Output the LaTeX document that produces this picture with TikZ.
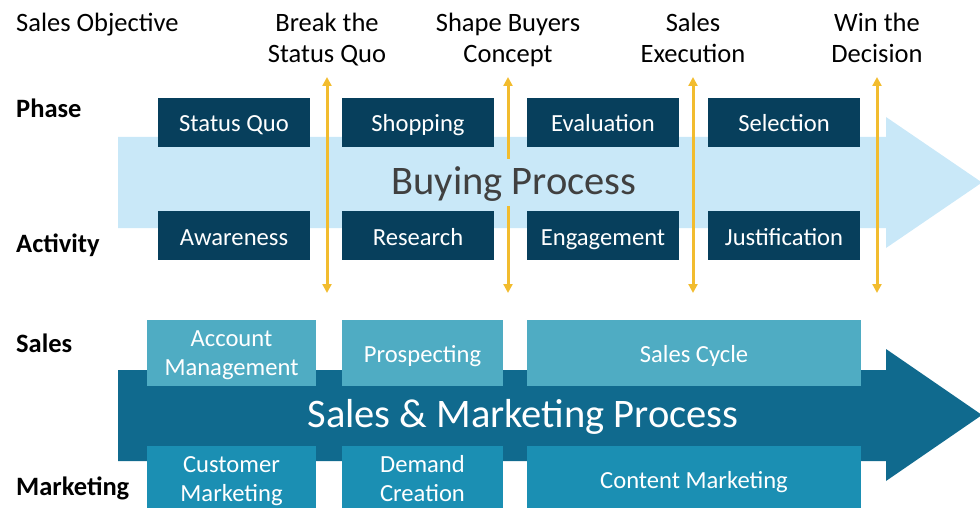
\documentclass[tikz,border=0pt]{standalone}
\usepackage{fontspec}
\setmainfont{Carlito}
\usetikzlibrary{arrows.meta, positioning}
\definecolor{phaseNavy}{HTML}{073F5C}
\definecolor{buyBlue}{HTML}{C9E8F8}
\definecolor{processBlue}{HTML}{106A8E}
\definecolor{salesTeal}{HTML}{4FACC3}
\definecolor{mktBlue}{HTML}{1B8FB3}
\definecolor{goalYellow}{HTML}{F2BC2E}
\definecolor{buyText}{HTML}{404040}
\newcommand{\goalTip}{{Triangle[length=9pt,width=9pt]}}
\newcommand{\boxFont}{\fontsize{24.6}{29}\selectfont}
\newcommand{\labelFont}{\fontsize{26.5}{31.5}\selectfont}
\tikzset{phase box/.style = {fill=phaseNavy, text=white, minimum width=152pt, minimum height=49pt, inner sep=0pt, text height=23pt, text depth=4pt, font=\boxFont}}
\tikzset{team box/.style = {text=white, minimum height=66pt, inner sep=0pt, align=center, font=\boxFont}}
\tikzset{one line/.style = {text height=23pt, text depth=4pt}}
\tikzset{two lines/.style = {text height=49pt, text depth=5pt}}
\tikzset{side label/.style = {anchor=base west, inner sep=0pt, font=\labelFont\bfseries}}
\tikzset{goal label/.style = {anchor=base, inner sep=0pt, align=center, font=\labelFont}}
\tikzset{goal arrow/.style = {goalYellow, line width=3pt, \goalTip-\goalTip}}

\begin{document}
\begin{tikzpicture}[x=1pt, y=-1pt]
	\useasboundingbox (0,0) rectangle (980,508);
	\clip (0,0) rectangle (980,508);
	\def\R{118}
	\def\H{886}
	\def\T{982}
	
	% the two big process arrows
	\fill[buyBlue]	(\R,137) -- (\H,137) -- (\H,117) -- (\T,182.5) -- (\H,248) -- (\H,228) -- (\R,228) -- cycle;
	\fill[processBlue]	(\R,370) -- (\H,370) -- (\H,349) -- (\T,415) -- (\H,481) -- (\H,461) -- (\R,461) -- cycle;
	
	% left labels
	\node[side label, font=\labelFont] (objective) at (16,32) {Sales Objective};
	\node[side label] (phase) at (16,118) {Phase};
	\node[side label] (activity) at (16,252) {Activity};
	\node[side label] (sales) at (16,352) {Sales};
	\node[side label] (marketing) at (16,495) {Marketing};
	
	% phases and activities
	\foreach \x/\ph/\ac [count=\i] in {234/Status Quo/Awareness, 418/Shopping/Research, 603/Evaluation/Engagement, 784/Selection/Justification}
	{
		\node[phase box] (phase\i) at (\x,122.5) {\ph};
		\node[phase box] (act\i) at (\x,235.5) {\ac};
	}
	
	% sales objectives
	\foreach \x/\goal [count=\i] in {327/{Break the\\Status Quo}, 508/{Shape Buyers\\Concept}, 693/{Sales\\Execution}, 877/{Win the\\Decision}}
	{
		\node[goal label] (goal\i) at (\x,63) {\goal};
		\coordinate (goalTop\i) at (\x,77);
		\coordinate (goalBot\i) at (\x,293);
		\draw[goal arrow] (goalTop\i) -- (goalBot\i);
	}
	
	\node[font=\fontsize{40.5}{48}\selectfont, text=buyText, fill=buyBlue, anchor=base, inner xsep=3pt, inner ysep=4pt, text height=31pt, text depth=8pt] (buying) at (514,194) {Buying Process};
	
	% sales and marketing
	\node[team box, fill=salesTeal, minimum width=169pt, two lines] (account) at (231.5,353) {Account\\Management};
	\node[team box, fill=salesTeal, minimum width=161pt, one line] (prospect) at (422.5,353) {Prospecting};
	\node[team box, fill=salesTeal, minimum width=334pt, one line] (cycle) at (694,353) {Sales Cycle};
	\node[team box, fill=mktBlue, minimum width=169pt, two lines] (customer) at (231.5,479) {Customer\\Marketing};
	\node[team box, fill=mktBlue, minimum width=161pt, two lines] (demand) at (422.5,479) {Demand\\Creation};
	\node[team box, fill=mktBlue, minimum width=334pt, one line] (content) at (694,479) {Content Marketing};
	
	\node[font=\fontsize{40.5}{48}\selectfont, text=white, anchor=base] (smProcess) at (523,427) {Sales \& Marketing Process};
\end{tikzpicture}
\end{document}
